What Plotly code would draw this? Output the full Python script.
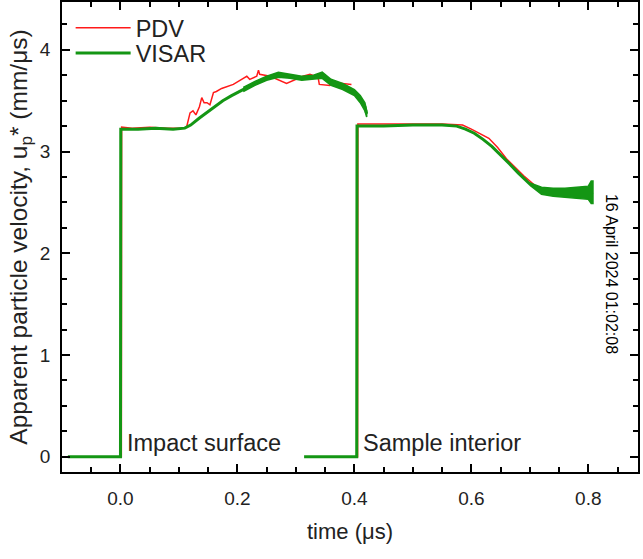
import plotly.graph_objects as go

# PDV (red) — two records separated by None
pdv_t = [-0.09, 0.0015, 0.002, 0.02, 0.05, 0.08, 0.105, 0.113, 0.119, 0.124, 0.129, 0.135, 0.139,
         0.143, 0.148, 0.153, 0.159, 0.164, 0.173, 0.193, 0.21, 0.216, 0.221, 0.233, 0.236, 0.238,
         0.256, 0.267, 0.284, 0.312, 0.324, 0.338, 0.340, 0.358, 0.361, 0.395,
         None,
         0.32, 0.4055, 0.406, 0.45, 0.50, 0.55, 0.585, 0.60, 0.63, 0.645, 0.66, 0.69, 0.71, 0.73,
         0.77, 0.80]
pdv_v = [0, 0, 3.24, 3.23, 3.24, 3.23, 3.23, 3.24, 3.38, 3.40, 3.36, 3.44, 3.53,
         3.48, 3.48, 3.46, 3.58, 3.59, 3.62, 3.66, 3.72, 3.74, 3.71, 3.74, 3.80, 3.76,
         3.74, 3.71, 3.67, 3.74, 3.76, 3.73, 3.66, 3.65, 3.68, 3.66,
         None,
         0, 0, 3.27, 3.27, 3.27, 3.27, 3.26, 3.22, 3.13, 3.04, 2.93, 2.76, 2.66, 2.62,
         2.60, 2.59]

# VISAR (green) mean trace
visar_t = [-0.09, 0.0, 0.0005, 0.03, 0.06, 0.09, 0.11, 0.12, 0.135, 0.153, 0.175, 0.19,
           0.21, 0.23, 0.25, 0.27, 0.29, 0.31, 0.33, 0.345, 0.36, 0.38, 0.40, 0.41, 0.418, 0.421,
           None,
           0.314, 0.404, 0.4045, 0.45, 0.50, 0.55, 0.575, 0.59, 0.605, 0.62, 0.635, 0.65, 0.665,
           0.68, 0.69, 0.70, 0.71, 0.72, 0.74, 0.76, 0.78, 0.80, 0.808]
visar_v = [0, 0, 3.22, 3.22, 3.23, 3.22, 3.23, 3.26, 3.33, 3.41, 3.50, 3.55,
           3.61, 3.67, 3.72, 3.76, 3.74, 3.72, 3.73, 3.75, 3.68, 3.64, 3.58, 3.52, 3.44, 3.37,
           None,
           0, 0, 3.25, 3.25, 3.26, 3.26, 3.25, 3.22, 3.18, 3.12, 3.05, 2.97, 2.88,
           2.79, 2.73, 2.68, 2.65, 2.62, 2.60, 2.60, 2.59, 2.59, 2.60]

# VISAR noise envelope
band1_t = [0.21, 0.23, 0.25, 0.27, 0.29, 0.31, 0.33, 0.345, 0.36, 0.38, 0.40, 0.41, 0.418, 0.421]
band1_hi = [3.63, 3.69, 3.74, 3.78, 3.76, 3.74, 3.75, 3.78, 3.71, 3.67, 3.61, 3.55, 3.48, 3.40]
band1_lo = [3.59, 3.65, 3.70, 3.73, 3.72, 3.70, 3.71, 3.72, 3.65, 3.61, 3.55, 3.48, 3.40, 3.34]
band2_t = [0.70, 0.72, 0.74, 0.76, 0.78, 0.80, 0.805, 0.808]
band2_hi = [2.69, 2.65, 2.64, 2.64, 2.65, 2.66, 2.71, 2.71]
band2_lo = [2.67, 2.58, 2.56, 2.55, 2.54, 2.53, 2.49, 2.49]

x_ticks = [0.0, 0.2, 0.4, 0.6, 0.8]
x_ticklabels = ["0.0", "0.2", "0.4", "0.6", "0.8"]
y_ticks = [0, 1, 2, 3, 4]

FONT = "Liberation Sans, Arial, sans-serif"
RED = "#ff1a1a"
GREEN = "#149614"
TXT = "#222"

fig = go.Figure()
fig.add_trace(go.Scatter(x=pdv_t, y=pdv_v, mode="lines", name="PDV", legend="legend",
                         line=dict(color=RED, width=1.5)))
fig.add_trace(go.Scatter(x=visar_t, y=visar_v, mode="lines", name="VISAR", legend="legend2",
                         line=dict(color=GREEN, width=3)))
for bt, bh, bl in [(band1_t, band1_hi, band1_lo), (band2_t, band2_hi, band2_lo)]:
    fig.add_trace(go.Scatter(x=bt + bt[::-1], y=bh + bl[::-1], mode="lines", fill="toself",
                             fillcolor=GREEN, line=dict(color=GREEN, width=1.5),
                             showlegend=False, hoverinfo="skip"))

axis_common = dict(showline=True, linecolor="black", linewidth=1.5, mirror="allticks",
                   ticks="inside", ticklen=8, tickwidth=1.5, tickcolor="black",
                   showgrid=False, zeroline=False, automargin=False,
                   tickfont=dict(family=FONT, size=19, color=TXT))

fig.update_xaxes(range=[-0.1, 0.885], tickvals=x_ticks, ticktext=x_ticklabels, ticklabelstandoff=8,
                 minor=dict(dtick=0.05, ticks="inside", ticklen=5, tickwidth=1.5, tickcolor="black"),
                 title=dict(text="time (μs)", font=dict(family=FONT, size=22, color=TXT), standoff=16),
                 **axis_common)
fig.update_yaxes(range=[-0.15, 4.47], tickvals=y_ticks, ticklabelstandoff=6,
                 minor=dict(dtick=0.25, ticks="inside", ticklen=5, tickwidth=1.5, tickcolor="black"),
                 title=dict(text="Apparent particle velocity, u<sub>p</sub>* (mm/μs)",
                            font=dict(family=FONT, size=24.5, color=TXT), standoff=5),
                 **axis_common)

fig.add_annotation(x=0.008, y=0.14, xref="x", yref="y", text="Impact surface", showarrow=False,
                   xanchor="left", yanchor="middle", font=dict(family=FONT, size=23.5, color=TXT))
fig.add_annotation(x=0.412, y=0.14, xref="x", yref="y", text="Sample interior", showarrow=False,
                   xanchor="left", yanchor="middle", font=dict(family=FONT, size=23.5, color=TXT))
fig.add_annotation(x=0.84, y=1.8, xref="x", yref="y", text="16 April 2024 01:02:08", showarrow=False,
                   textangle=90, font=dict(family=FONT, size=16, color="black"))

leg = dict(xanchor="left", yanchor="middle", bgcolor="rgba(0,0,0,0)",
           font=dict(family=FONT, size=23.5, color=TXT), itemwidth=55)
fig.update_layout(width=643, height=559,
                  margin=dict(l=62, r=5, t=2, b=87),
                  paper_bgcolor="white", plot_bgcolor="white",
                  showlegend=True,
                  legend=dict(x=0.015, y=0.945, **leg),
                  legend2=dict(x=0.015, y=0.891, **leg))

fig.write_html("out.html", config={"displayModeBar": False},
               post_script="document.body.style.margin='0';")
